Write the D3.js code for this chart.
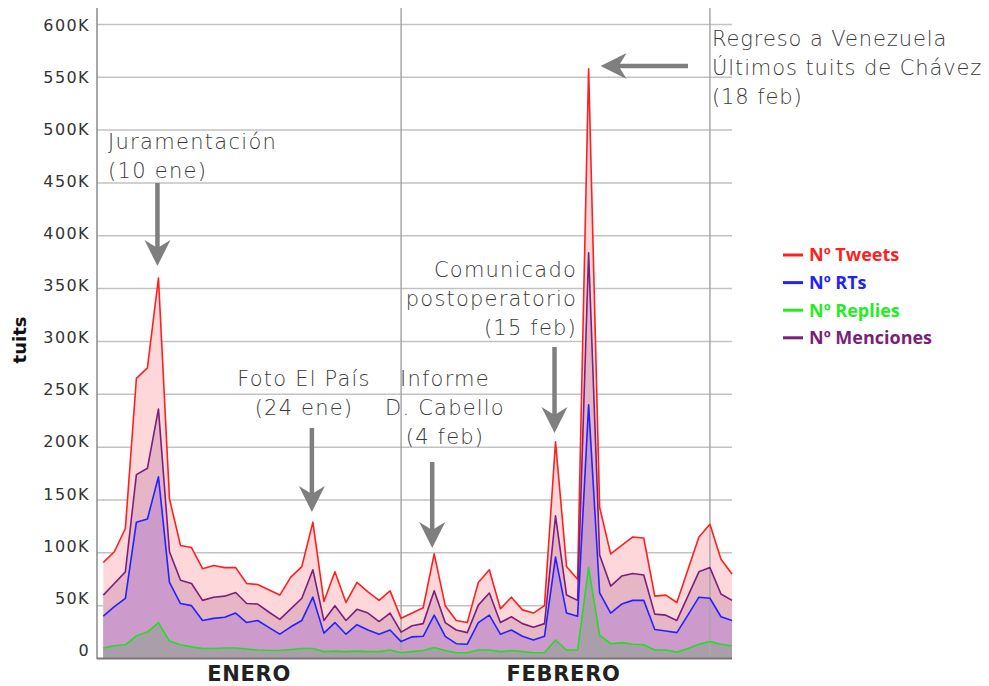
<!DOCTYPE html>
<html><head><meta charset="utf-8">
<script src="https://cdn.jsdelivr.net/npm/d3@7"></script>
<style>html,body{margin:0;padding:0;background:#fff;}svg{display:block;}</style>
</head><body>
<svg id="c" width="989" height="686"></svg>
<script>
// ---- data (thousands of tuits per day, 5 Jan – 3 Mar 2013) ----
const startDate = new Date(2013, 0, 5);
const endDate = new Date(2013, 2, 3);
const dates = d3.timeDay.range(startDate, d3.timeDay.offset(endDate, 1));
const tweets = [91,101,123,265,275,360,151,107,105,85,88,86,86,71,70,65,60,77,87,129,54,82,53,72,63,55,64,38,43,48,99,50,36,34,72,84,47,58,46,43,50,205,87,75,558,143,99,107,115,114,59,60,53,84,115,127,94,80];
const menciones = [60,71,82,174,180,236,101,74,71,55,58,59,62.5,52,51.5,44,37,47,57,84,36,50,36,46.5,43,35,43,25,31,33,64,34,27,24.5,50.5,62,34,39.5,33,29.5,33,135,60,55,384,98,68.5,78,80.5,79,42,41,36,59,82,86,61,55];
const rts = [40,49,57,129,132,172,72,52,50,36,38,39,43,34,36,29.5,23,30,36,58,24,34,23,32,27,23,27,16,20.5,21,41,21,14,13.5,34,41,23,27,21,17.5,21,96,43,40,240,62,43,51.5,55,55,27.5,26,24.5,41,58,57,39.5,36];
const replies = [10,12,13,21.5,25,34,16.5,13,11,9.5,9.5,10,10,9,8,7.5,7.5,8.5,9.5,9.5,6.5,7,6.5,7,6.5,6.5,8,5.5,6.5,7.5,10.5,7.5,5.5,5.5,8,8,6.5,7.5,6.5,5.5,5.5,17.5,8,8,86,22,14,15,13.5,13,8,8,6,9.5,13.5,16,13.5,12];
const yTickValues = [0,50000,100000,150000,200000,250000,300000,350000,400000,450000,500000,550000,600000];
const yTickLabels = ["0","50K","100K","150K","200K","250K","300K","350K","400K","450K","500K","550K","600K"];
const monthStarts = [new Date(2013,1,1), new Date(2013,2,1)];
const monthNames = ["ENERO","FEBRERO"];
const seriesNames = ["Nº Tweets","Nº RTs","Nº Replies","Nº Menciones"];

const svg = d3.select("#c");
const x = d3.scaleTime().domain([startDate, endDate]).range([103.3, 732]);
const y = d3.scaleLinear().domain([0, 600000]).range([658.5, 24.4]);
const yLab = d3.scaleLinear().domain([0, 600000]).range([650, 25]);
const axisX0 = 97, axisRight = 732, axisTop = 8;

// gridlines
svg.append("g").selectAll("line").data(yTickValues.filter(v => v > 0)).join("line")
  .attr("x1", axisX0).attr("x2", axisRight)
  .attr("y1", d => y(d)).attr("y2", d => y(d))
  .attr("stroke", "#c2c2c2").attr("stroke-width", 1.5);

// series
const S = [
  {vals: tweets, fill: "#fdd7d9", stroke: "#ff1f1f"},
  {vals: menciones, fill: "#e6b6c6", stroke: "#7b1f7b"},
  {vals: rts, fill: "#cc9acb", stroke: "#2222ff"},
  {vals: replies, fill: "#aa9eaa", stroke: "#22dd22"}
];
const area = d3.area().x((d,i) => x(dates[i])).y0(y(0)).y1(d => y(d*1000));
const line = d3.line().x((d,i) => x(dates[i])).y(d => y(d*1000));
S.forEach(s => svg.append("path").attr("d", area(s.vals)).attr("fill", s.fill));

// month separators
svg.append("g").selectAll("line").data(monthStarts).join("line")
  .attr("x1", d => x(d)).attr("x2", d => x(d))
  .attr("y1", axisTop).attr("y2", y(0))
  .attr("stroke", "#a8a8a8").attr("stroke-width", 1.5);

S.forEach(s => svg.append("path").attr("d", line(s.vals)).attr("fill", "none")
  .attr("stroke", s.stroke).attr("stroke-width", 1.6).attr("stroke-linejoin", "round"));

// axes lines
svg.append("line").attr("x1", axisX0).attr("x2", axisX0).attr("y1", axisTop).attr("y2", y(0) + 0.5)
  .attr("stroke", "#8a8a8a").attr("stroke-width", 1.5);
svg.append("line").attr("x1", axisX0).attr("x2", axisRight).attr("y1", y(0)).attr("y2", y(0))
  .attr("stroke", "#777").attr("stroke-width", 2);

// y tick labels
svg.append("g").selectAll("text").data(yTickValues).join("text")
  .attr("x", 90).attr("y", d => yLab(d)).attr("dy", "0.36em")
  .attr("text-anchor", "end")
  .attr("font-family", "DejaVu Sans").attr("font-size", 16).attr("letter-spacing", 1.4)
  .attr("fill", "#333").text((d,i) => yTickLabels[i]);

svg.append("text").attr("transform", "translate(26,340) rotate(-90)")
  .attr("text-anchor", "middle").attr("font-family", "DejaVu Sans").attr("font-weight", "bold")
  .attr("font-size", 18).attr("fill", "#111").text("tuits");

// month labels
const monthCenters = [(axisX0 + x(monthStarts[0]))/2, (x(monthStarts[0]) + x(monthStarts[1]))/2 + 8];
svg.append("g").selectAll("text").data(monthNames).join("text")
  .attr("x", (d,i) => monthCenters[i]).attr("y", 681)
  .attr("text-anchor", "middle").attr("font-family", "DejaVu Sans").attr("font-weight", "bold")
  .attr("font-size", 21).attr("letter-spacing", 0.7).attr("fill", "#222").text(d => d);

// annotations
const annFont = {family: "DejaVu Sans", size: 21};
function textBlock(lines, xx, y0, anchor, ls) {
  const g = svg.append("g");
  lines.forEach((t, i) => g.append("text").attr("x", xx).attr("y", y0 + i*29)
    .attr("text-anchor", anchor).attr("font-family", annFont.family).attr("font-weight", 300)
    .attr("font-size", annFont.size).attr("letter-spacing", ls).attr("fill", "#3a3a3a").text(t));
}
function arrow(x1, y1, x2, y2) {
  const ang = Math.atan2(y2 - y1, x2 - x1) * 180 / Math.PI;
  const len = Math.hypot(x2 - x1, y2 - y1);
  const g = svg.append("g").attr("transform", `translate(${x2},${y2}) rotate(${ang})`);
  g.append("line").attr("x1", -len).attr("x2", -14).attr("y1", 0).attr("y2", 0)
    .attr("stroke", "#7f7f7f").attr("stroke-width", 4.5);
  g.append("path").attr("d", "M0,0 L-26,-13 L-18,0 L-26,13 Z").attr("fill", "#7f7f7f");
}
textBlock(["Juramentación", "(10 ene)"], 108, 149, "start", 1.3);
arrow(x(dates[5]) - 1, 183, x(dates[5]) - 1, 266);
textBlock(["Foto El País", "(24 ene)"], 304, 386, "middle", 1.2);
arrow(x(dates[19]) - 1, 428, x(dates[19]) - 1, 512);
textBlock(["Informe", "D. Cabello", "(4 feb)"], 445, 386, "middle", 1.2);
arrow(x(dates[30]) - 2, 462, x(dates[30]) - 2, 548);
textBlock(["Comunicado", "postoperatorio", "(15 feb)"], 577, 277, "end", 1.2);
arrow(x(dates[41]) - 1, 347, x(dates[41]) - 1, 433);
textBlock(["Regreso a Venezuela", "Últimos tuits de Chávez", "(18 feb)"], 712, 46, "start", 0.9);
arrow(688, 66, x(dates[44]) + 12, 66);

// legend
const legColors = ["#ff1f1f", "#2222ff", "#22ee22", "#7b1f7b"];
const leg = svg.append("g");
seriesNames.forEach((n, i) => {
  const yy = 255 + i*27.6;
  leg.append("line").attr("x1", 783).attr("x2", 803).attr("y1", yy).attr("y2", yy)
    .attr("stroke", legColors[i]).attr("stroke-width", 3);
  leg.append("text").attr("x", 809).attr("y", yy).attr("dy", "0.36em")
    .attr("font-family", "Open Sans").attr("font-weight", "bold").attr("font-size", 18)
    .attr("fill", legColors[i]).text(n);
});
</script>
</body></html>
